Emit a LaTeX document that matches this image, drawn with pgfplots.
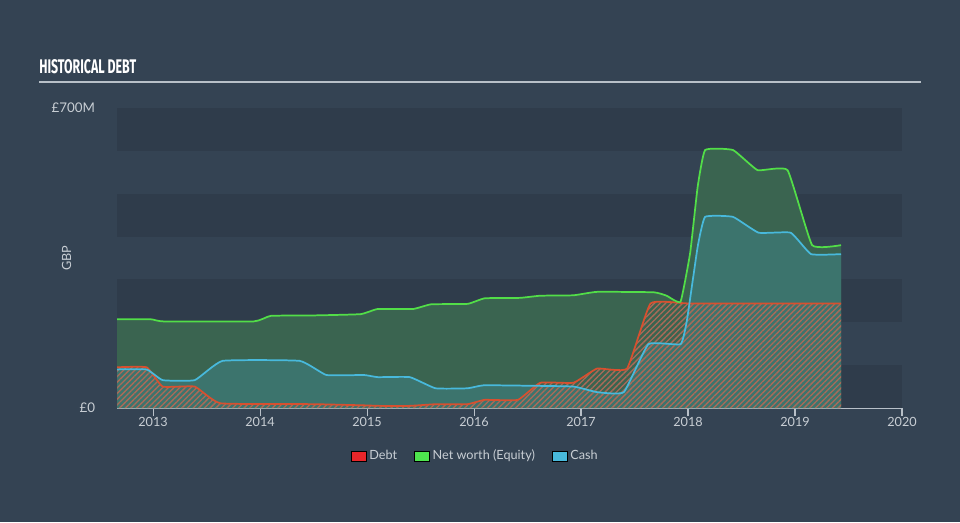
\documentclass[border=0pt]{standalone}
\usepackage{fontspec}
\setmainfont{Lato}
\newfontfamily\titlefont{Fira Sans}
\usepackage{graphicx}
\usepackage{pgfplots}
\pgfplotsset{compat=1.18}
\usetikzlibrary{patterns.meta}
\definecolor{bg}{HTML}{344353}
\definecolor{band}{HTML}{2F3C4B}
\definecolor{eqline}{HTML}{52DE48}
\definecolor{eqfill}{HTML}{3A6450}
\definecolor{cashline}{HTML}{48B9DC}
\definecolor{cashfill}{HTML}{3C746D}
\definecolor{debtline}{HTML}{D8502F}
\definecolor{debtleg}{HTML}{E8262A}
\definecolor{eqleg}{HTML}{4EE44E}
\definecolor{hatch}{HTML}{AC6A58}
\definecolor{ticktext}{HTML}{C8CED4}
\definecolor{axisline}{HTML}{B8C0C8}
\begin{document}
\begin{tikzpicture}
\path[use as bounding box, fill=bg] (0,0) rectangle (720pt,391.5pt);
\node[anchor=west, inner sep=0pt, text=white] at (29.25pt,341.25pt) {\resizebox{72.75pt}{10.5pt}{\titlefont\bfseries HISTORICAL DEBT}};
\draw[axisline, line width=1.3pt] (29.25pt,330pt) -- (690.75pt,330pt);
\node[rotate=90, text=ticktext, font=\fontsize{9.5}{10}\selectfont] at (50pt,198pt) {GBP};
\begin{axis}[
  at={(87.75pt,85.5pt)}, anchor=south west,
  width=588.75pt, height=225pt, scale only axis,
  xmin=2012.663, xmax=2020, ymin=0, ymax=700,
  axis x line*=bottom, axis y line*=left,
  x axis line style={draw=axisline, line width=0.8pt, -},
  y axis line style={draw=none},
  xtick={2013,2014,2015,2016,2017,2018,2019,2020},
  xticklabels={2013,2014,2015,2016,2017,2018,2019,2020},
  ytick={0,700}, yticklabels={£0,£700M},
  tick align=outside, major tick length=6pt,
  xtick style={draw=axisline, line width=0.8pt},
  ytick style={draw=none},
  xticklabel style={text=ticktext, font=\fontsize{9.5}{10}\selectfont, inner sep=1pt},
  yticklabel style={text=ticktext, font=\fontsize{10}{11}\selectfont, xshift=-7pt},
  /pgf/number format/assume math mode=true,
  legend image code/.code={\fill[#1] (0pt,-3.75pt) rectangle (11.25pt,3.75pt);},
  legend style={at={(0.457,-0.16)}, anchor=center, draw=none, fill=none,
    legend columns=3, font=\fontsize{9.5}{11}\selectfont, text=ticktext,
    /tikz/every even column/.append style={column sep=11pt}},
]
\fill[band] (axis cs:2012.663,0) rectangle (axis cs:2020,100);
\fill[band] (axis cs:2012.663,200) rectangle (axis cs:2020,300);
\fill[band] (axis cs:2012.663,400) rectangle (axis cs:2020,500);
\fill[band] (axis cs:2012.663,600) rectangle (axis cs:2020,700);
% equity fill
\addplot[forget plot, draw=none, fill=eqfill, smooth, tension=0.22] coordinates {
(2012.663,207) (2012.98,207) (2013.1,202) (2013.94,202) (2014.1,215) (2014.5,216) (2014.94,219) (2015.1,231) (2015.43,231) (2015.6,242) (2015.94,243) (2016.1,256) (2016.43,257) (2016.62,262) (2016.93,263) (2017.15,271) (2017.68,270) (2017.8,262) (2017.93,248) (2018.02,362) (2018.09,516) (2018.16,602) (2018.42,602) (2018.65,555) (2018.93,555) (2019.16,380) (2019.43,380)
} \closedcycle;
% cash fill
\addplot[forget plot, draw=none, fill=cashfill, smooth, tension=0.22] coordinates {
(2012.663,90) (2012.94,90) (2013.09,65) (2013.39,65) (2013.65,110) (2014.37,110) (2014.62,77) (2014.97,77) (2015.1,72) (2015.4,72) (2015.64,46) (2015.94,46) (2016.09,53) (2016.5,52) (2016.93,50) (2017.15,37) (2017.4,37) (2017.63,149) (2017.93,149) (2017.99,205) (2018.09,376) (2018.16,446) (2018.42,446) (2018.66,409) (2018.96,409) (2019.15,359) (2019.43,359)
} \closedcycle;
% debt hatch
\addplot[forget plot, draw=none, pattern={Lines[angle=45,distance=3pt,line width=1pt]}, pattern color=hatch, smooth, tension=0.22] coordinates {
(2012.663,95) (2012.94,95) (2013.09,50) (2013.39,50) (2013.63,11) (2014.5,9) (2015.0,6) (2015.1,5) (2015.4,5) (2015.65,9) (2015.94,9) (2016.1,19) (2016.41,19) (2016.62,59) (2016.93,59) (2017.15,92) (2017.43,92) (2017.65,244) (2018.0,244) (2018.7,244) (2019.43,244)
} \closedcycle;
% lines
\addplot[forget plot, debtline, line width=1.3pt, smooth, tension=0.22] coordinates {
(2012.663,95) (2012.94,95) (2013.09,50) (2013.39,50) (2013.63,11) (2014.5,9) (2015.0,6) (2015.1,5) (2015.4,5) (2015.65,9) (2015.94,9) (2016.1,19) (2016.41,19) (2016.62,59) (2016.93,59) (2017.15,92) (2017.43,92) (2017.65,244) (2018.0,244) (2018.7,244) (2019.43,244)
};
\addplot[forget plot, eqline, line width=1.3pt, smooth, tension=0.22] coordinates {
(2012.663,207) (2012.98,207) (2013.1,202) (2013.94,202) (2014.1,215) (2014.5,216) (2014.94,219) (2015.1,231) (2015.43,231) (2015.6,242) (2015.94,243) (2016.1,256) (2016.43,257) (2016.62,262) (2016.93,263) (2017.15,271) (2017.68,270) (2017.8,262) (2017.93,248) (2018.02,362) (2018.09,516) (2018.16,602) (2018.42,602) (2018.65,555) (2018.93,555) (2019.16,380) (2019.43,380)
};
\addplot[forget plot, cashline, line width=1.3pt, smooth, tension=0.22] coordinates {
(2012.663,90) (2012.94,90) (2013.09,65) (2013.39,65) (2013.65,110) (2014.37,110) (2014.62,77) (2014.97,77) (2015.1,72) (2015.4,72) (2015.64,46) (2015.94,46) (2016.09,53) (2016.5,52) (2016.93,50) (2017.15,37) (2017.4,37) (2017.63,149) (2017.93,149) (2017.99,205) (2018.09,376) (2018.16,446) (2018.42,446) (2018.66,409) (2018.96,409) (2019.15,359) (2019.43,359)
};
\addlegendimage{fill=debtleg}
\addlegendentry{Debt}
\addlegendimage{fill=eqleg}
\addlegendentry{Net worth (Equity)}
\addlegendimage{fill=cashline}
\addlegendentry{Cash}
\end{axis}
\end{tikzpicture}
\end{document}
